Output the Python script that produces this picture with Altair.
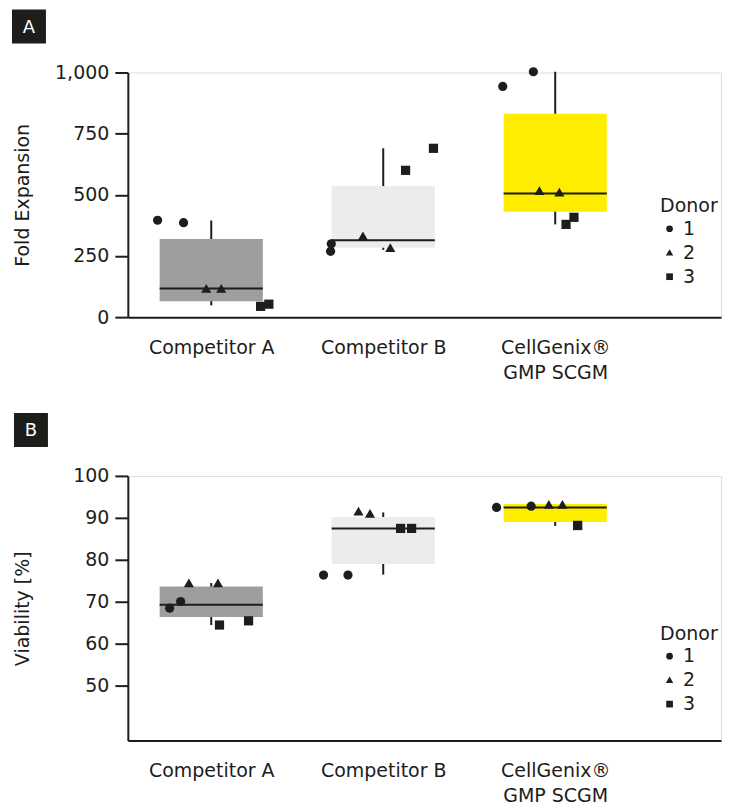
import json
import altair as alt
import pandas as pd

FONT = "DejaVu Sans"
FS = 19
INK = "#1D1D1B"

groups = ["Competitor A", "Competitor B", "CellGenix®\nGMP SCGM"]
box_colors = ["#9E9E9E", "#ECECEC", "#FFED00"]
donor_ids = ["1", "2", "3"]
donor_shapes = ["circle", "M0,-1.05L1.1,0.85L-1.1,0.85Z", "square"]

# Panel A: Fold expansion (box statistics per group)
fold_q1 = [65, 284, 431]
fold_med = [117, 314, 505]
fold_q3 = [319, 536, 831]
fold_lo = [48, 275, 379]
fold_hi = [395, 690, 1003]

# Panel B: Viability (box statistics per group)
via_q1 = [66.4, 79.0, 89.0]
via_med = [69.3, 87.5, 92.5]
via_q3 = [73.7, 90.2, 93.3]
via_lo = [64.5, 76.5, 88.1]
via_hi = [74.5, 91.3, 93.3]

# individual measurements (2 per donor per group); offsets are jitter within a group
point_group = [g for g in groups for _ in range(6)]
point_donor = ["1", "1", "2", "2", "3", "3"] * 3
fold_offset = [-0.312, -0.161, -0.029, 0.058, 0.287, 0.335,
               -0.302, -0.306, -0.118, 0.041, 0.130, 0.292,
               -0.305, -0.127, -0.092, 0.024, 0.063, 0.109]
fold_value = [396, 386, 116, 116, 44, 53,
              300, 269, 330, 282, 600, 690,
              943, 1003, 515, 509, 379, 408]
via_offset = [-0.242, -0.178, -0.130, 0.039, 0.048, 0.217,
              -0.347, -0.205, -0.144, -0.077, 0.101, 0.165,
              -0.341, -0.140, -0.037, 0.042, 0.130, 0.130]
via_value = [68.5, 70.1, 74.4, 74.4, 64.5, 65.5,
             76.4, 76.4, 91.5, 91.0, 87.5, 87.5,
             92.5, 92.8, 93.1, 93.1, 88.2, 88.2]

W = 594
HALF = 0.3  # half box width in group units
label_parts = json.dumps([g.split("\n") for g in groups], ensure_ascii=False)


def panel(letter, q1, med, q3, lo, hi, offs, vals, ytitle, ydomain, yvalues,
          yformat, height, legend_y, lab_x):
    box_df = pd.DataFrame({"group": groups, "idx": list(range(1, len(groups) + 1)),
                           "q1": q1, "med": med, "q3": q3, "lo": lo, "hi": hi})
    pts_df = pd.DataFrame({"group": point_group,
                           "idx": [groups.index(g) + 1 for g in point_group],
                           "donor": point_donor, "off": offs, "value": vals})

    xscale = alt.Scale(domain=[0.515, 3.964], nice=False, zero=False)
    xaxis = alt.Axis(title=None, values=[1, 2, 3], labelAngle=0, ticks=False,
                     tickSize=0, grid=False, domainWidth=2, domainColor=INK,
                     labelFontSize=FS, labelColor=INK, labelFont=FONT,
                     labelPadding=21, labelBaseline="top", labelLineHeight=25,
                     labelOverlap=False, labelFlush=False,
                     labelExpr=label_parts + "[datum.value - 1]")
    yaxis = alt.Axis(title=ytitle, values=yvalues, format=yformat, grid=False,
                     domainWidth=2, domainColor=INK, tickWidth=2, tickSize=13,
                     tickColor=INK, labelFontSize=FS, labelColor=INK,
                     labelFont=FONT, labelPadding=6, titleFontSize=FS,
                     titleFont=FONT, titleColor=INK, titleFontWeight="normal",
                     titleX=-95, titleY=height / 2)
    yscale = alt.Scale(domain=ydomain, nice=False, zero=False)

    base_box = alt.Chart(box_df).transform_calculate(
        xl=f"datum.idx - {HALF}", xr=f"datum.idx + {HALF}")

    whisker = base_box.mark_rule(color=INK, strokeWidth=2).encode(
        x=alt.X("idx:Q", scale=xscale, axis=xaxis),
        y=alt.Y("lo:Q", scale=yscale, axis=yaxis),
        y2="hi:Q",
    )
    box = base_box.mark_rect().encode(
        x=alt.X("xl:Q", scale=xscale, axis=xaxis),
        x2="xr:Q",
        y=alt.Y("q1:Q", scale=yscale, axis=yaxis),
        y2="q3:Q",
        color=alt.Color("group:N", scale=alt.Scale(domain=groups, range=box_colors),
                        legend=None),
    )
    median = base_box.mark_rule(color=INK, strokeWidth=2).encode(
        x=alt.X("xl:Q", scale=xscale, axis=xaxis),
        x2="xr:Q",
        y=alt.Y("med:Q", scale=yscale, axis=yaxis),
    )
    points = alt.Chart(pts_df).transform_calculate(
        xp="datum.idx + datum.off"
    ).mark_point(filled=True, size=85, opacity=1, color=INK).encode(
        x=alt.X("xp:Q", scale=xscale, axis=xaxis),
        y=alt.Y("value:Q", scale=yscale, axis=yaxis),
        shape=alt.Shape("donor:N",
                        scale=alt.Scale(domain=donor_ids, range=donor_shapes),
                        legend=alt.Legend(title="Donor", orient="none",
                                          legendX=533, legendY=legend_y,
                                          titleFontSize=FS, titleFont=FONT,
                                          titleFontWeight="normal",
                                          titleColor=INK, titlePadding=3,
                                          labelFontSize=FS, labelFont=FONT,
                                          labelColor=INK, labelOffset=4,
                                          rowPadding=4, symbolSize=45,
                                          symbolFillColor=INK,
                                          symbolStrokeWidth=0, padding=0)),
    )
    lab_df = alt.Data(values=[{"t": letter}])
    lab_sq = alt.Chart(lab_df).mark_square(size=1156, color=INK, opacity=1).encode(
        x=alt.value(lab_x), y=alt.value(-46))
    lab_tx = alt.Chart(lab_df).mark_text(color="white", fontSize=18, font=FONT,
                                         align="center", baseline="middle").encode(
        x=alt.value(lab_x), y=alt.value(-45), text="t:N")

    return alt.layer(whisker, box, median, points, lab_sq, lab_tx).properties(
        width=W, height=height)


pA = panel("A", fold_q1, fold_med, fold_q3, fold_lo, fold_hi, fold_offset,
           fold_value, "Fold Expansion", [0, 1000], [0, 250, 500, 750, 1000],
           ",.0f", 245, 125, -99)
pB = panel("B", via_q1, via_med, via_q3, via_lo, via_hi, via_offset,
           via_value, "Viability [%]", [37, 100], [50, 60, 70, 80, 90, 100],
           ".0f", 265, 149, -97)

chart = alt.vconcat(pA, pB, spacing=29).resolve_scale(
    shape="independent", y="independent", x="independent", color="shared"
).resolve_legend(shape="independent").properties(
    padding={"left": 3, "top": 0, "right": 5, "bottom": 5}
).configure_view(stroke=None).configure(font=FONT)

chart.save("out.html", embed_options={"renderer": "svg", "actions": False})
